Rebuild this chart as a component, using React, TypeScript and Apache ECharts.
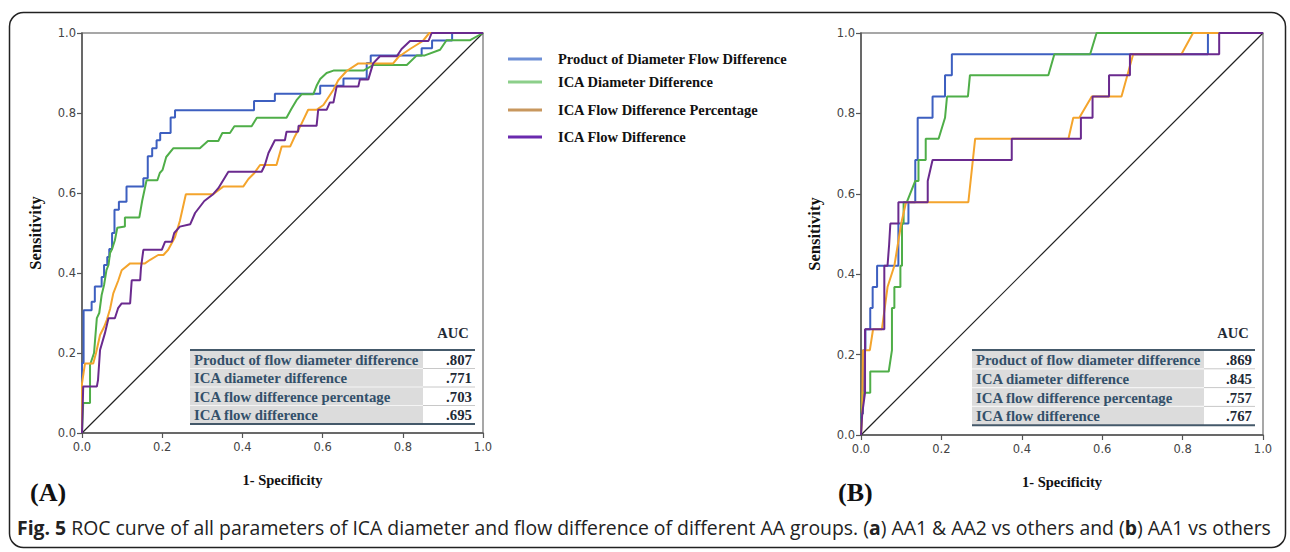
import React, { useEffect, useRef } from "react";
import * as echarts from "echarts";

const seriesNames = [
  "Product of Diameter Flow Difference",
  "ICA Diameter Difference",
  "ICA Flow Difference Percentage",
  "ICA Flow Difference",
];
const curveColors = ["#3d5fc0", "#4fae48", "#f4a42c", "#6a2a8e"];
const legendColors = ["#6e8fd6", "#8ccf8a", "#c8975e", "#6a2aae"];

const tableLabels = [
  "Product of flow diameter difference",
  "ICA diameter difference",
  "ICA flow difference percentage",
  "ICA flow difference",
];
const aucLeft = [".807", ".771", ".703", ".695"];
const aucRight = [".869", ".845", ".757", ".767"];

const diagonal = [[0, 0], [1, 1]];

const leftProduct = [[0,0],[0,0.175],[0.004,0.175],[0.004,0.307],[0.024,0.307],[0.024,0.328],[0.032,0.328],[0.032,0.366],[0.049,0.366],[0.049,0.39],[0.055,0.39],[0.055,0.42],[0.063,0.42],[0.063,0.44],[0.068,0.44],[0.068,0.46],[0.075,0.46],[0.075,0.5],[0.081,0.5],[0.081,0.558],[0.092,0.558],[0.092,0.578],[0.111,0.578],[0.111,0.616],[0.153,0.616],[0.153,0.637],[0.164,0.637],[0.164,0.692],[0.175,0.692],[0.175,0.712],[0.186,0.712],[0.186,0.732],[0.195,0.732],[0.195,0.75],[0.221,0.75],[0.221,0.789],[0.232,0.789],[0.232,0.807],[0.429,0.807],[0.429,0.83],[0.481,0.83],[0.481,0.848],[0.594,0.848],[0.594,0.868],[0.652,0.868],[0.652,0.886],[0.71,0.886],[0.71,0.925],[0.72,0.925],[0.72,0.944],[0.847,0.944],[0.847,0.962],[0.873,0.962],[0.873,0.981],[0.923,0.981],[0.923,1],[1,1]];
const leftDiameter = [[0,0],[0.003,0.075],[0.02,0.075],[0.02,0.17],[0.03,0.2],[0.037,0.287],[0.043,0.3],[0.049,0.345],[0.055,0.37],[0.061,0.407],[0.066,0.42],[0.07,0.45],[0.075,0.46],[0.082,0.482],[0.088,0.513],[0.107,0.516],[0.107,0.539],[0.143,0.539],[0.15,0.58],[0.161,0.632],[0.188,0.632],[0.194,0.65],[0.201,0.658],[0.21,0.69],[0.228,0.712],[0.294,0.712],[0.314,0.73],[0.34,0.73],[0.35,0.75],[0.369,0.75],[0.38,0.767],[0.423,0.767],[0.436,0.788],[0.51,0.788],[0.522,0.81],[0.535,0.832],[0.548,0.847],[0.577,0.847],[0.585,0.868],[0.594,0.885],[0.61,0.9],[0.627,0.906],[0.702,0.906],[0.726,0.92],[0.81,0.92],[0.835,0.944],[0.855,0.944],[0.893,0.958],[0.909,0.982],[0.968,0.982],[1,1]];
const leftFlowPct = [[0,0],[0,0.124],[0.0075,0.174],[0.028,0.174],[0.035,0.2],[0.045,0.245],[0.055,0.265],[0.062,0.283],[0.07,0.31],[0.078,0.349],[0.09,0.38],[0.099,0.407],[0.12,0.424],[0.157,0.424],[0.17,0.433],[0.19,0.445],[0.203,0.445],[0.215,0.458],[0.232,0.49],[0.244,0.53],[0.259,0.597],[0.327,0.597],[0.352,0.616],[0.402,0.616],[0.415,0.635],[0.43,0.65],[0.444,0.67],[0.485,0.67],[0.498,0.716],[0.519,0.716],[0.53,0.74],[0.544,0.766],[0.564,0.808],[0.585,0.808],[0.602,0.82],[0.627,0.858],[0.639,0.882],[0.66,0.905],[0.689,0.924],[0.776,0.924],[0.789,0.94],[0.818,0.96],[0.85,0.98],[0.866,1],[1,1]];
const leftFlow = [[0,0],[0.003,0.116],[0.037,0.116],[0.04,0.133],[0.045,0.2075],[0.057,0.249],[0.066,0.287],[0.082,0.287],[0.09,0.312],[0.099,0.324],[0.12,0.324],[0.124,0.382],[0.145,0.382],[0.147,0.412],[0.153,0.458],[0.199,0.458],[0.207,0.478],[0.224,0.478],[0.23,0.5],[0.244,0.516],[0.27,0.522],[0.282,0.55],[0.305,0.58],[0.327,0.597],[0.34,0.612],[0.365,0.653],[0.448,0.653],[0.456,0.67],[0.465,0.7],[0.481,0.732],[0.506,0.732],[0.51,0.753],[0.539,0.753],[0.54,0.768],[0.585,0.768],[0.589,0.808],[0.61,0.808],[0.618,0.826],[0.627,0.826],[0.635,0.866],[0.689,0.866],[0.693,0.884],[0.714,0.884],[0.726,0.924],[0.743,0.942],[0.785,0.942],[0.797,0.96],[0.818,0.98],[0.864,0.98],[0.872,1],[1,1]];

const rightProduct = [[0,0],[0,0.053],[0.005,0.053],[0.005,0.211],[0.011,0.211],[0.011,0.263],[0.023,0.263],[0.023,0.316],[0.029,0.316],[0.029,0.368],[0.04,0.368],[0.04,0.421],[0.093,0.421],[0.093,0.526],[0.118,0.526],[0.118,0.579],[0.135,0.579],[0.135,0.684],[0.141,0.684],[0.141,0.789],[0.178,0.789],[0.178,0.842],[0.209,0.842],[0.209,0.895],[0.226,0.895],[0.226,0.947],[0.863,0.947],[0.863,1],[1,1]];
const rightDiameter = [[0,0],[0.003,0.105],[0.023,0.105],[0.023,0.158],[0.069,0.158],[0.077,0.211],[0.077,0.316],[0.083,0.316],[0.083,0.368],[0.098,0.368],[0.098,0.421],[0.102,0.421],[0.102,0.526],[0.106,0.526],[0.106,0.579],[0.114,0.579],[0.135,0.632],[0.143,0.632],[0.143,0.684],[0.161,0.684],[0.161,0.737],[0.193,0.737],[0.209,0.789],[0.214,0.842],[0.266,0.842],[0.271,0.895],[0.466,0.895],[0.481,0.947],[0.57,0.947],[0.586,1],[1,1]];
const rightFlowPct = [[0,0],[0.003,0.053],[0.005,0.211],[0.022,0.211],[0.03,0.263],[0.052,0.263],[0.066,0.368],[0.083,0.421],[0.1,0.526],[0.112,0.579],[0.267,0.579],[0.284,0.737],[0.516,0.737],[0.528,0.789],[0.543,0.789],[0.574,0.842],[0.648,0.842],[0.677,0.947],[0.797,0.947],[0.826,1],[1,1]];
const rightFlow = [[0,0],[0.003,0.053],[0.01,0.105],[0.01,0.263],[0.058,0.263],[0.058,0.421],[0.066,0.421],[0.07,0.474],[0.073,0.526],[0.093,0.526],[0.093,0.579],[0.166,0.579],[0.166,0.632],[0.178,0.684],[0.375,0.684],[0.375,0.737],[0.547,0.737],[0.547,0.789],[0.576,0.789],[0.576,0.842],[0.617,0.842],[0.617,0.895],[0.669,0.895],[0.669,0.947],[0.891,0.947],[0.891,1],[1,1]];

const leftCurves = [leftProduct, leftDiameter, leftFlowPct, leftFlow];
const rightCurves = [rightProduct, rightDiameter, rightFlowPct, rightFlow];

const SERIF = "'Liberation Serif', 'Times New Roman', serif";
const TICKFONT = "'DejaVu Sans', sans-serif";

function buildTable(x: number, divX: number, right: number, top: number, rowH: number, values: string[]) {
  const els: any[] = [];
  const n = tableLabels.length;
  const h = rowH * n;
  els.push({ type: "rect", shape: { x, y: top, width: divX - x, height: h }, style: { fill: "#dcdcdc" }, silent: true });
  els.push({ type: "rect", shape: { x: divX, y: top, width: right - divX, height: h }, style: { fill: "#ffffff" }, silent: true });
  for (let i = 1; i < n; i++) {
    const yy = top + rowH * i;
    els.push({ type: "line", shape: { x1: x, y1: yy, x2: divX, y2: yy }, style: { stroke: "#f4f4f4", lineWidth: 1.2 }, silent: true });
    els.push({ type: "line", shape: { x1: divX, y1: yy, x2: right, y2: yy }, style: { stroke: "#c8c8c8", lineWidth: 1 }, silent: true });
  }
  els.push({ type: "line", shape: { x1: x, y1: top, x2: right, y2: top }, style: { stroke: "#44596a", lineWidth: 2 }, silent: true });
  els.push({ type: "line", shape: { x1: x, y1: top + h, x2: right, y2: top + h }, style: { stroke: "#44596a", lineWidth: 2 }, silent: true });
  for (let i = 0; i < n; i++) {
    const cy = top + rowH * i + rowH / 2 + 0.5;
    els.push({ type: "text", x: x + 4, y: cy, style: { text: tableLabels[i], font: `bold 14.8px ${SERIF}`, fill: "#33506a", align: "left", verticalAlign: "middle" }, silent: true });
    els.push({ type: "text", x: right - 3, y: cy, style: { text: values[i], font: `bold 14.8px ${SERIF}`, fill: "#1e2a36", align: "right", verticalAlign: "middle" }, silent: true });
  }
  els.push({ type: "text", x: right - 22, y: top - 17, style: { text: "AUC", font: `bold 14.5px ${SERIF}`, fill: "#1e2a36", align: "center", verticalAlign: "middle" }, silent: true });
  return els;
}

export default function App() {
  const ref = useRef<HTMLDivElement>(null);
  useEffect(() => {
    document.body.style.margin = "0";
    if (!ref.current) return;
    const chart = echarts.init(ref.current, null, { renderer: "svg" });

    const mkX = (gi: number) => ({
      type: "value", gridIndex: gi, min: 0, max: 1, interval: 0.2,
      name: "1- Specificity", nameLocation: "middle", nameGap: 39,
      nameTextStyle: { fontFamily: SERIF, fontWeight: "bold", fontSize: 14.5, color: "#111" },
      axisLine: { show: true, onZero: false, lineStyle: { color: "#555", width: 1.5 } },
      axisTick: { show: true, length: 5, lineStyle: { color: "#555", width: 1.2 } },
      axisLabel: { fontFamily: TICKFONT, fontSize: 11.5, color: "#444", margin: 8, formatter: (v: number) => v.toFixed(1) },
      splitLine: { show: false },
    });
    const mkY = (gi: number) => ({
      type: "value", gridIndex: gi, min: 0, max: 1, interval: 0.2,
      name: "Sensitivity", nameLocation: "middle", nameGap: 38, nameRotate: 90,
      nameTextStyle: { fontFamily: SERIF, fontWeight: "bold", fontSize: 16.5, color: "#111" },
      axisLine: { show: true, onZero: false, lineStyle: { color: "#555", width: 1.5 } },
      axisTick: { show: true, length: 5, lineStyle: { color: "#555", width: 1.2 } },
      axisLabel: { fontFamily: TICKFONT, fontSize: 11.5, color: "#444", margin: 6, formatter: (v: number) => v.toFixed(1) },
      splitLine: { show: false },
    });

    const series: any[] = [];
    [leftCurves, rightCurves].forEach((curves, gi) => {
      series.push({
        type: "line", xAxisIndex: gi, yAxisIndex: gi, data: diagonal, symbol: "none", silent: true,
        lineStyle: { color: "#222", width: 1.2 }, z: 2,
      });
      curves.forEach((d, i) => {
        series.push({
          name: seriesNames[i], type: "line", xAxisIndex: gi, yAxisIndex: gi, data: d, symbol: "none",
          lineStyle: { color: curveColors[i], width: 2 }, z: 3 + i,
        });
      });
    });

    const legendY = [59, 82, 110, 137];
    const legendEls: any[] = [];
    seriesNames.forEach((nm, i) => {
      legendEls.push({ type: "line", shape: { x1: 508, y1: legendY[i], x2: 542, y2: legendY[i] }, style: { stroke: legendColors[i], lineWidth: 3 }, silent: true });
      legendEls.push({ type: "text", x: 558, y: legendY[i], style: { text: nm, font: `bold 14.5px ${SERIF}`, fill: "#111", align: "left", verticalAlign: "middle" }, silent: true });
    });

    const graphic: any[] = [
      { type: "rect", shape: { x: 9.5, y: 12.5, width: 1276, height: 535, r: 14 }, style: { fill: "none", stroke: "#222", lineWidth: 1.5 }, silent: true, z: -10 },
      ...legendEls,
      ...buildTable(190, 423, 475, 350, 18.5, aucLeft),
      ...buildTable(972, 1204, 1255, 350, 18.8, aucRight),
      { type: "text", x: 30, y: 492, style: { text: "(A)", font: `bold 26px ${SERIF}`, fill: "#111", align: "left", verticalAlign: "middle" }, silent: true },
      { type: "text", x: 838, y: 492, style: { text: "(B)", font: `bold 26px ${SERIF}`, fill: "#111", align: "left", verticalAlign: "middle" }, silent: true },
      {
        type: "text", x: 17, y: 527, silent: true,
        style: {
          text: "{b|Fig. 5} ROC curve of all parameters of ICA diameter and flow difference of different AA groups. ({b|a}) AA1 & AA2 vs others and ({b|b}) AA1 vs others",
          font: "19.4px 'Open Sans', sans-serif", fill: "#222", align: "left", verticalAlign: "middle",
          rich: { b: { fontFamily: "'Open Sans', sans-serif", fontWeight: "bold", fontSize: 19.4, fill: "#222" } },
        },
      },
    ];

    chart.setOption({
      animation: false,
      backgroundColor: "#ffffff",
      grid: [
        { left: 82, top: 33, width: 401, height: 400, show: true, borderColor: "#8a8a8a", borderWidth: 1.5, backgroundColor: "transparent" },
        { left: 861, top: 33, width: 402, height: 402, show: true, borderColor: "#8a8a8a", borderWidth: 1.5, backgroundColor: "transparent" },
      ],
      xAxis: [mkX(0), mkX(1)],
      yAxis: [mkY(0), mkY(1)],
      series,
      graphic,
    });
    return () => chart.dispose();
  }, []);
  return <div ref={ref} style={{ width: 1290, height: 552 }} />;
}
